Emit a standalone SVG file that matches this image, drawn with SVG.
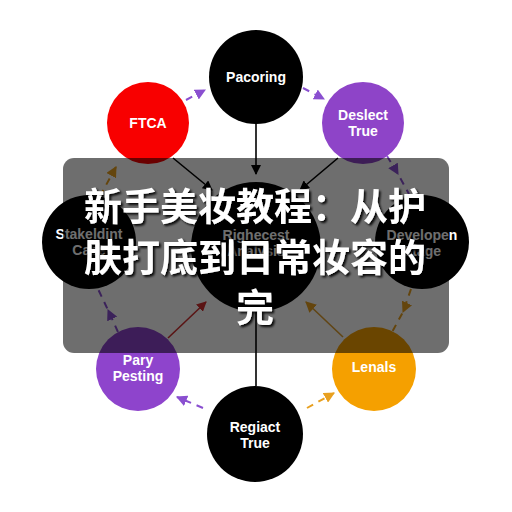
<svg xmlns="http://www.w3.org/2000/svg" width="512" height="512" viewBox="0 0 512 512">
<style>
.lbl{font-family:"Liberation Sans",Arial,sans-serif;font-weight:bold;font-size:14px;fill:#fff;text-anchor:middle}
.solid{stroke-width:1.6;fill:none}
.dash{stroke-width:2;fill:none;stroke-dasharray:7 6}
.title{font-family:"Noto Sans CJK SC","Noto Sans",sans-serif;font-weight:bold;font-size:38px;fill:#fff;text-anchor:middle}
</style>
<defs>
<marker id="aK" viewBox="0 0 10 10" refX="9" refY="5" markerWidth="10" markerHeight="10" markerUnits="userSpaceOnUse" orient="auto"><path d="M0,0 L10,5 L0,10 Z" fill="#000"/></marker>
<marker id="aR" viewBox="0 0 10 10" refX="9" refY="5" markerWidth="10" markerHeight="10" markerUnits="userSpaceOnUse" orient="auto"><path d="M0,0 L10,5 L0,10 Z" fill="#d03030"/></marker>
<marker id="aO" viewBox="0 0 10 10" refX="9" refY="5" markerWidth="11" markerHeight="11" markerUnits="userSpaceOnUse" orient="auto"><path d="M0,0 L10,5 L0,10 Z" fill="#e8a020"/></marker>
<marker id="aP" viewBox="0 0 10 10" refX="9" refY="5" markerWidth="11" markerHeight="11" markerUnits="userSpaceOnUse" orient="auto"><path d="M0,0 L10,5 L0,10 Z" fill="#8a4fd0"/></marker>
<filter id="sh" x="-10%" y="-10%" width="120%" height="130%"><feDropShadow dx="2" dy="2" stdDeviation="1.2" flood-color="#000" flood-opacity="0.9"/></filter>
</defs>
<rect width="512" height="512" fill="#fff"/>
<g id="connectors">
<line class="solid" stroke="#000" x1="256" y1="124" x2="256" y2="174" marker-end="url(#aK)"/>
<line class="solid" stroke="#000" x1="173" y1="158" x2="212" y2="190" marker-end="url(#aK)"/>
<line class="solid" stroke="#000" x1="338" y1="158" x2="300" y2="190" marker-end="url(#aK)"/>
<line class="solid" stroke="#000" x1="256" y1="312" x2="256" y2="386"/>
<line class="solid" stroke="#d03030" x1="168" y1="338" x2="206" y2="302" marker-end="url(#aR)"/>
<line class="solid" stroke="#e0a030" x1="343" y1="337" x2="306" y2="302" marker-end="url(#aO)"/>
<line class="dash" stroke="#8a4fd0" x1="186" y1="100" x2="205" y2="90" stroke-dasharray="8 5" marker-end="url(#aP)"/>
<line class="dash" stroke="#8a4fd0" x1="303" y1="88" x2="324" y2="99" stroke-dasharray="8 5" marker-end="url(#aP)"/>
<path class="dash" stroke="#8a4fd0" d="M387,156 L398,174 L409,194" marker-mid="url(#aP)"/>
<path class="dash" stroke="#e8a020" d="M100,196 L116,167" marker-end="url(#aO)"/>
<path class="dash" stroke="#8a4fd0" d="M118,332 L108,310 L98,289" marker-mid="url(#aP)"/>
<path class="dash" stroke="#e8a020" d="M411,289 L403,312 L391,334" marker-mid="url(#aO)"/>
<line class="dash" stroke="#8a4fd0" x1="203" y1="408" x2="177" y2="397" marker-end="url(#aP)"/>
<line class="dash" stroke="#e8a020" x1="307" y1="408" x2="334" y2="393" marker-end="url(#aO)"/>
</g>
<g id="n-pacoring"><circle cx="256" cy="77" r="47" fill="#000"/><text class="lbl" x="256" y="82">Pacoring</text></g>
<g id="n-ftca"><circle cx="148" cy="123" r="41" fill="#f80000"/><text class="lbl" x="148" y="128">FTCA</text></g>
<g id="n-deslect"><circle cx="363" cy="123" r="41" fill="#8e44c8"/><text class="lbl" x="363" y="120">Deslect</text><text class="lbl" x="363" y="136">True</text></g>
<g id="n-stakeldint"><circle cx="89" cy="242" r="47" fill="#000"/><text class="lbl" x="89" y="239">Stakeldint</text><text class="lbl" x="89" y="255">Case</text></g>
<g id="n-righecest"><circle cx="256" cy="247" r="65" fill="#000"/><text class="lbl" x="256" y="240">Righecest</text><text class="lbl" x="256" y="256">Analysis</text></g>
<g id="n-developen"><circle cx="422" cy="242" r="47" fill="#000"/><text class="lbl" x="422" y="240">Developen</text><text class="lbl" x="422" y="256">Stage</text></g>
<g id="n-pary"><circle cx="138" cy="369" r="42" fill="#8e44cc"/><text class="lbl" x="138" y="365">Pary</text><text class="lbl" x="138" y="381">Pesting</text></g>
<g id="n-lenals"><circle cx="374" cy="369" r="42" fill="#f5a000"/><text class="lbl" x="374" y="372">Lenals</text></g>
<g id="n-regiact"><circle cx="255" cy="434" r="48" fill="#000"/><text class="lbl" x="255" y="432">Regiact</text><text class="lbl" x="255" y="448">True</text></g>
<rect x="63" y="158" width="386" height="195" rx="11" fill="#000" opacity="0.57"/>
<g filter="url(#sh)">
<text class="title" x="255" y="220">新手美妆教程：从护</text>
<text class="title" x="255" y="271">肤打底到日常妆容的</text>
<text class="title" x="255" y="321">完</text>
</g>
</svg>
